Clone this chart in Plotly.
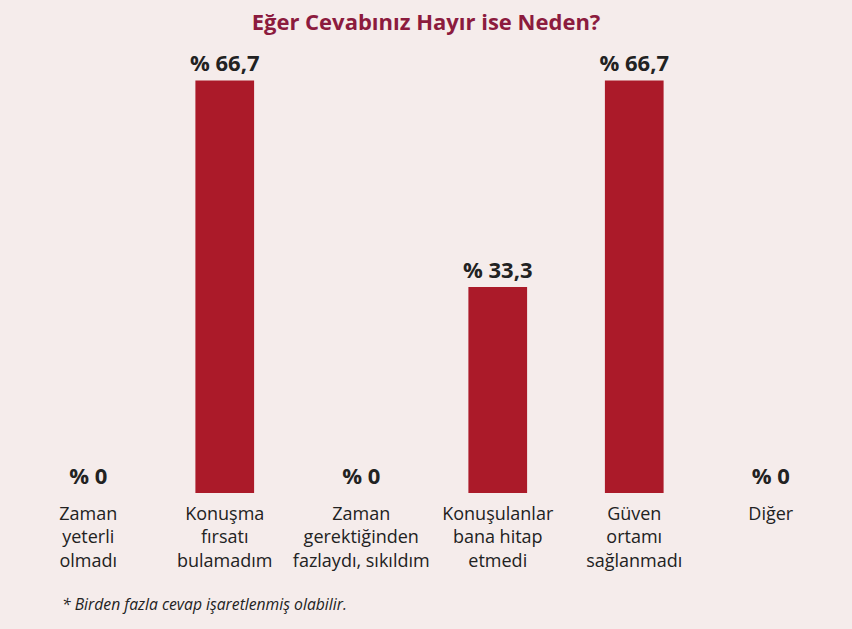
import plotly.graph_objects as go

# Survey answers: reasons given for "No"
categories = [
    "Zaman<br>yeterli<br>olmadı",
    "Konuşma<br>fırsatı<br>bulamadım",
    "Zaman<br>gerektiğinden<br>fazlaydı, sıkıldım",
    "Konuşulanlar<br>bana hitap<br>etmedi",
    "Güven<br>ortamı<br>sağlanmadı",
    "Diğer",
]
percentages = [0, 66.7, 0, 33.3, 66.7, 0]

title_text = "Eğer Cevabınız Hayır ise Neden?"
footnote_text = "* Birden fazla cevap işaretlenmiş olabilir."

BG = "#f5eceb"
BAR = "#ab1a29"
TITLE = "#8c1b3e"
TEXT = "#222222"
FONT = "Open Sans"


def pct_label(v):
    s = f"{v:.1f}".replace(".", ",")
    if s.endswith(",0"):
        s = s[:-2]
    return "% " + s


x_idx = list(range(len(categories)))

fig = go.Figure(
    go.Bar(
        x=x_idx,
        y=percentages,
        marker=dict(color=BAR, line=dict(width=0)),
        text=[pct_label(v) for v in percentages],
        textposition="outside",
        constraintext="none",
        textfont=dict(family=FONT, size=22, color=TEXT, weight="bold"),
        cliponaxis=False,
        width=0.43,
    )
)

fig.update_layout(
    width=852,
    height=629,
    paper_bgcolor=BG,
    plot_bgcolor=BG,
    margin=dict(l=20, r=13, t=60, b=136),
    showlegend=False,
    font=dict(family=FONT, color=TEXT),
    title=dict(
        text=title_text,
        x=0.5,
        xanchor="center",
        y=0.965,
        yanchor="middle",
        font=dict(family=FONT, size=22, color=TITLE, weight="bold"),
    ),
    xaxis=dict(
        tickmode="array",
        tickvals=x_idx,
        ticktext=categories,
        range=[-0.5, len(categories) - 0.5],
        showgrid=False,
        showline=False,
        zeroline=False,
        ticks="",
        tickfont=dict(family=FONT, size=18, color=TEXT),
        ticklabelstandoff=8,
        automargin=False,
        fixedrange=True,
    ),
    yaxis=dict(
        range=[0, 70],
        visible=False,
        showgrid=False,
        zeroline=False,
        automargin=False,
        fixedrange=True,
    ),
    annotations=[
        dict(
            text=footnote_text,
            xref="paper",
            yref="paper",
            x=(60 - 20) / (852 - 33),
            y=-(604 - 493) / (629 - 60 - 136),
            xanchor="left",
            yanchor="middle",
            showarrow=False,
            font=dict(family=FONT, size=15.7, color=TEXT, style="italic"),
        )
    ],
)

fig.write_html("out.html")
